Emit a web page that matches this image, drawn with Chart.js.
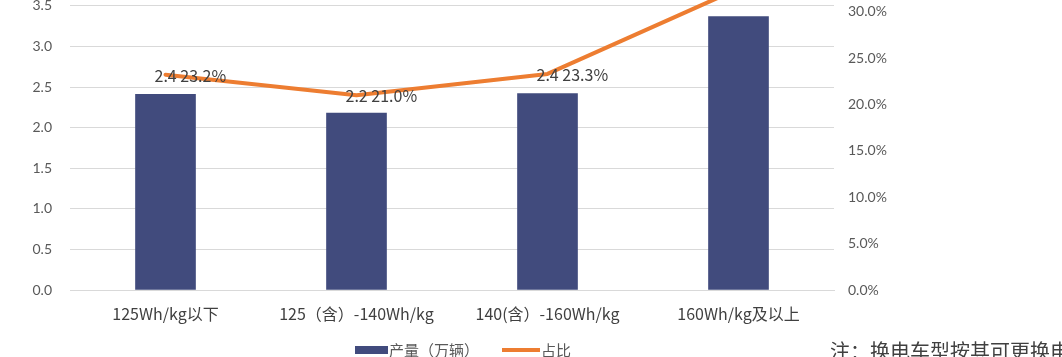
<!DOCTYPE html>
<html>
<head>
<meta charset="utf-8">
<script src="https://cdn.jsdelivr.net/npm/chart.js@4"></script>
<style>
  html, body { margin: 0; padding: 0; width: 1062px; height: 357px; overflow: hidden; background: #fff; }
  #wrap { position: absolute; left: 0; top: -61px; width: 1062px; height: 431px; }
  #note { position: absolute; left: 830px; top: 336px; font: 20px "Noto Sans CJK SC", sans-serif; color: #404040; white-space: nowrap; }
</style>
</head>
<body>
<div id="wrap"><canvas id="c" width="1062" height="431"></canvas></div>
<div id="note">注：换电车型按其可更换电池</div>
<script>
const categories = ['125Wh/kg以下', '125（含）-140Wh/kg', '140(含）-160Wh/kg', '160Wh/kg及以上'];
const output = [2.41, 2.18, 2.42, 3.37];      // 产量（万辆）
const share = [23.2, 21.0, 23.3, 32.5];        // 占比 (%)
const leftTicks = { min: 0, max: 4, step: 0.5 };
const rightTicks = { min: 0, max: 35, step: 5 };
const seriesNames = ['产量（万辆）', '占比'];

const BAR = '#414B7D', LINE = '#ED7D31';
const tickFont = { family: 'Lato, "Noto Sans CJK SC", sans-serif', size: 14 };

const labelPlugin = {
  id: 'labels',
  afterDatasetsDraw(chart) {
    const ctx = chart.ctx;
    const meta = chart.getDatasetMeta(1);
    ctx.save();
    ctx.font = '16px "Noto Sans CJK SC", sans-serif';
    ctx.fillStyle = '#404040';
    ctx.textAlign = 'left';
    ctx.textBaseline = 'middle';
    meta.data.forEach((pt, i) => {
      ctx.fillText(output[i].toFixed(1) + ' ' + share[i].toFixed(1) + '%', pt.x - 11, pt.y + 1);
    });
    ctx.restore();
  },
  afterDraw(chart) {
    const ctx = chart.ctx;
    ctx.save();
    const y = chart.chartArea.bottom + 60;
    ctx.fillStyle = BAR;
    ctx.fillRect(355, y - 4, 33, 8);
    ctx.font = '15px "Noto Sans CJK SC", sans-serif';
    ctx.fillStyle = '#595959';
    ctx.textBaseline = 'middle';
    ctx.textAlign = 'left';
    ctx.fillText(seriesNames[0], 389, y);
    ctx.strokeStyle = LINE;
    ctx.lineWidth = 4;
    ctx.beginPath();
    ctx.moveTo(502, y);
    ctx.lineTo(540, y);
    ctx.stroke();
    ctx.fillText(seriesNames[1], 541, y);
    ctx.restore();
  }
};

new Chart(document.getElementById('c'), {
  data: {
    labels: categories,
    datasets: [
      { type: 'bar', label: seriesNames[0], data: output, backgroundColor: BAR, barThickness: 60, yAxisID: 'y', order: 1 },
      { type: 'line', label: seriesNames[1], data: share, borderColor: LINE, borderWidth: 4, pointRadius: 0, tension: 0, yAxisID: 'y1', order: 0, borderCapStyle: 'round', borderJoinStyle: 'round' }
    ]
  },
  options: {
    responsive: false,
    devicePixelRatio: 1,
    animation: false,
    layout: { autoPadding: false, padding: { top: 3, left: 0, right: 0, bottom: 0 } },
    plugins: { legend: { display: false }, tooltip: { enabled: false } },
    scales: {
      x: {
        afterFit(s) { s.height = 80; },
        grid: { display: false, drawTicks: false },
        border: { display: true, color: '#D9D9D9', width: 1 },
        ticks: { color: '#404040', font: { family: '"Noto Sans CJK SC", sans-serif', size: 16 }, padding: 14, maxRotation: 0, autoSkip: false }
      },
      y: {
        position: 'left',
        min: leftTicks.min, max: leftTicks.max,
        afterFit(s) { s.width = 70; },
        grid: { color: '#D9D9D9', drawTicks: false },
        border: { display: false },
        ticks: { stepSize: leftTicks.step, color: '#595959', font: tickFont, padding: 18, callback: v => v.toFixed(1) }
      },
      y1: {
        position: 'right',
        min: rightTicks.min, max: rightTicks.max,
        afterFit(s) { s.width = 228; },
        grid: { drawOnChartArea: false, drawTicks: false },
        border: { display: false },
        ticks: { stepSize: rightTicks.step, color: '#595959', font: tickFont, padding: 14, callback: v => v.toFixed(1) + '%' }
      }
    }
  },
  plugins: [labelPlugin]
});
</script>
</body>
</html>
